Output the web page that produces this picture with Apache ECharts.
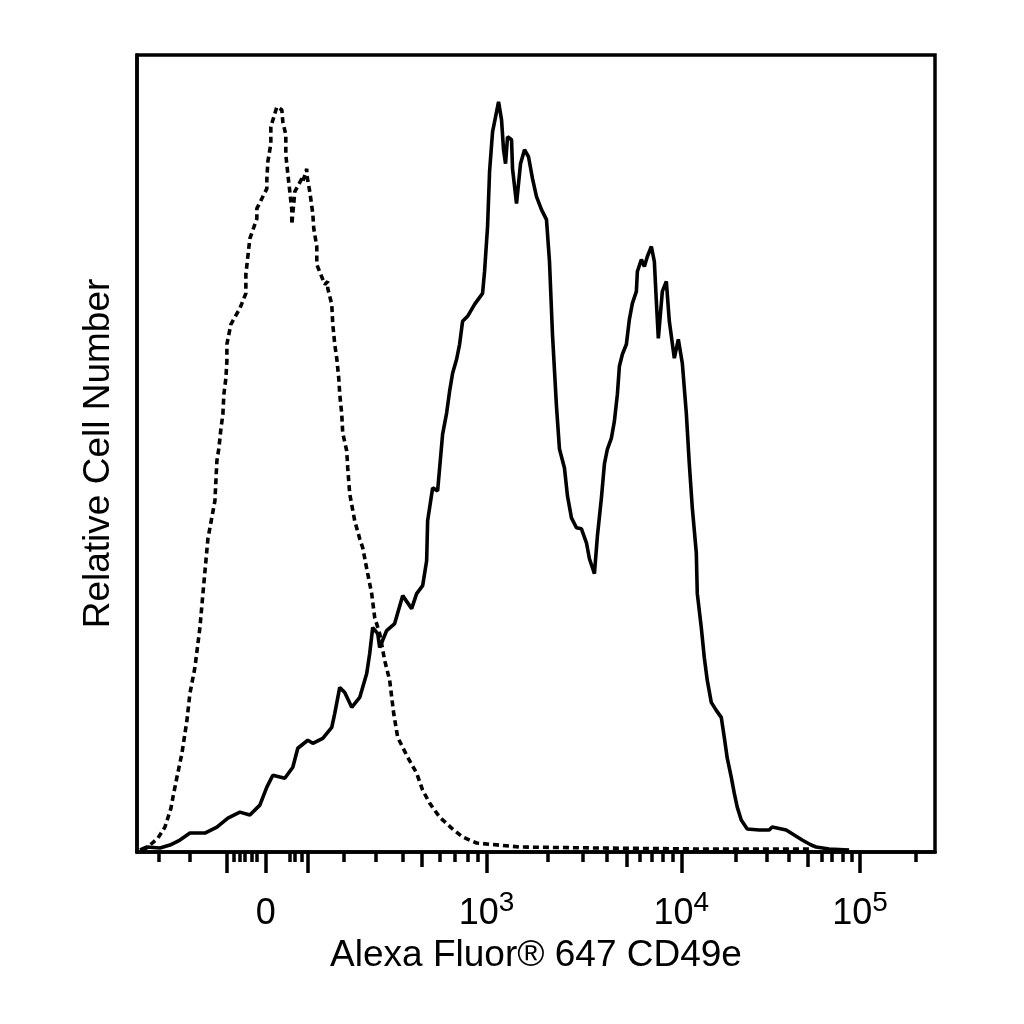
<!DOCTYPE html>
<html>
<head>
<meta charset="utf-8">
<script src="https://cdn.jsdelivr.net/npm/echarts@6/dist/echarts.min.js"></script>
<style>
  html, body { margin: 0; padding: 0; background: #fff; }
  #chart { width: 1024px; height: 1024px; }
</style>
</head>
<body>
<div id="chart"></div>
<script>
// x = display channel on the biexponential scale, y = relative cell count
const controlChannel = [6, 13, 21, 28, 34, 36, 40, 45, 50, 53, 58, 63, 66, 69, 71, 78, 80, 82, 84, 86, 87, 89, 90, 90, 94, 103, 109, 109, 113, 120, 120, 130, 130, 131, 134, 134, 140, 145, 146, 149, 149, 151, 155, 155, 158, 165, 166, 170, 170, 173, 174, 176, 177, 180, 180, 188, 191, 191, 195, 196, 198, 200, 202, 203, 205, 206, 210, 211, 213, 218, 223, 226, 231, 235, 238, 243, 248, 253, 257, 261, 270, 280, 286, 293, 303, 315, 326, 340, 383, 463, 563, 676]
const controlCount = [1, 7, 14, 25, 44, 55, 75, 99, 132, 159, 185, 225, 259, 292, 314, 352, 392, 405, 424, 439, 459, 475, 492, 509, 529, 545, 560, 579, 615, 635, 645, 665, 674, 692, 710, 727, 747, 744, 732, 719, 699, 680, 644, 629, 662, 675, 672, 685, 679, 662, 655, 640, 625, 607, 589, 569, 572, 565, 549, 529, 509, 495, 475, 459, 439, 420, 402, 385, 359, 332, 314, 305, 279, 259, 235, 219, 192, 172, 139, 115, 97, 79, 62, 49, 35, 24, 15, 9, 5, 4, 3, 3, 2]

const stainedChannel = [3, 10, 23, 33, 43, 53, 68, 80, 91, 103, 113, 123, 130, 136, 148, 156, 161, 171, 176, 186, 195, 198, 203, 208, 215, 223, 230, 233, 236, 241, 243, 250, 258, 266, 275, 280, 286, 290, 291, 296, 301, 306, 310, 313, 316, 320, 323, 326, 331, 338, 346, 348, 351, 353, 356, 360, 362, 365, 367, 369, 371, 375, 376, 380, 384, 388, 392, 396, 400, 405, 410, 413, 416, 420, 423, 428, 431, 435, 440, 445, 450, 453, 458, 461, 465, 468, 471, 475, 478, 481, 483, 486, 490, 493, 496, 500, 501, 505, 508, 511, 515, 518, 520, 522, 526, 530, 533, 538, 542, 546, 550, 553, 556, 560, 561, 565, 568, 571, 575, 580, 585, 588, 591, 595, 598, 601, 605, 611, 623, 633, 636, 650, 658, 666, 675, 680, 693, 713]
const stainedCount = [2, 5, 4, 7, 12, 19, 19, 25, 34, 40, 37, 47, 65, 77, 74, 85, 104, 112, 109, 114, 125, 139, 165, 160, 145, 155, 179, 199, 225, 219, 205, 222, 229, 257, 244, 259, 267, 292, 332, 365, 362, 419, 440, 462, 480, 494, 509, 532, 537, 549, 560, 582, 627, 682, 722, 742, 752, 734, 704, 690, 717, 714, 685, 650, 690, 704, 697, 675, 657, 644, 634, 592, 519, 447, 404, 385, 357, 335, 325, 324, 310, 294, 279, 317, 355, 389, 404, 415, 432, 459, 487, 499, 509, 534, 550, 562, 582, 594, 587, 597, 607, 592, 552, 515, 562, 572, 532, 495, 514, 490, 440, 389, 345, 300, 259, 225, 195, 172, 150, 142, 135, 115, 94, 75, 59, 45, 32, 23, 22, 22, 25, 22, 17, 12, 7, 5, 3, 2]

// axis ticks (display channel) and labels
const majorTicks = [90, 129, 171, 350, 545, 724]
const labelTicks = [129, 350, 545, 724]
const labelBase = ['0', '10', '10', '10']
const labelExp = ['', '3', '4', '5']
const midTicks = [285, 490, 672]
const minorTicks = [22, 53, 97, 103, 108, 115, 120, 153, 158, 165, 207, 239, 266, 303, 318, 331, 341, 411, 446, 470, 503, 515, 526, 536, 600, 631, 653, 686, 696, 707, 716, 780]

const font = 'Liberation Sans, Arial, sans-serif'
const chart = echarts.init(document.getElementById('chart'))

const tickAxis = (ticks, len) => ({
  type: 'value', min: 0, max: 799, position: 'bottom',
  axisLine: { show: false },
  splitLine: { show: false },
  axisLabel: { show: false },
  axisTick: { show: true, length: len, customValues: ticks, lineStyle: { color: '#000', width: 3.5 } }
})

chart.setOption({
  backgroundColor: '#fff',
  animation: false,
  grid: { left: 137, top: 55, right: 89, bottom: 172, show: true, borderColor: '#000', borderWidth: 3.5, backgroundColor: 'transparent' },
  xAxis: [
    {
      type: 'value', min: 0, max: 799, position: 'bottom',
      name: 'Alexa Fluor® 647 CD49e',
      nameLocation: 'middle', nameGap: 84,
      nameTextStyle: { fontFamily: font, fontSize: 37, color: '#000' },
      axisLine: { show: true, lineStyle: { color: '#000', width: 3.5 } },
      splitLine: { show: false },
      axisTick: { show: true, length: 21, customValues: majorTicks, lineStyle: { color: '#000', width: 3.5 } },
      axisLabel: {
        customValues: labelTicks,
        margin: 37,
        formatter: (v) => {
          const i = labelTicks.indexOf(v)
          return labelExp[i] ? `{b|${labelBase[i]}}{s|${labelExp[i]}}` : `{b|${labelBase[i]}}`
        },
        rich: {
          b: { fontFamily: font, fontSize: 36, color: '#000', lineHeight: 40, padding: [7, 0, 0, 0], verticalAlign: 'top' },
          s: { fontFamily: font, fontSize: 28, color: '#000', lineHeight: 27, verticalAlign: 'top' }
        }
      }
    },
    tickAxis(midTicks, 15),
    tickAxis(minorTicks, 10)
  ],
  yAxis: {
    type: 'value', min: 0, max: 799,
    name: 'Relative Cell Number',
    nameLocation: 'middle', nameGap: 20,
    nameTextStyle: { fontFamily: font, fontSize: 37, color: '#000' },
    axisLine: { show: true, lineStyle: { color: '#000', width: 3.5 } },
    axisTick: { show: false },
    axisLabel: { show: false },
    splitLine: { show: false }
  },
  series: [
    {
      type: 'line', xAxisIndex: 0, symbol: 'none',
      data: controlChannel.map((x, i) => [x, controlCount[i]]),
      lineStyle: { color: '#000', width: 3.6, type: [6, 4] }
    },
    {
      type: 'line', xAxisIndex: 0, symbol: 'none',
      data: stainedChannel.map((x, i) => [x, stainedCount[i]]),
      lineStyle: { color: '#000', width: 3.6 }
    }
  ]
})
</script>
</body>
</html>
